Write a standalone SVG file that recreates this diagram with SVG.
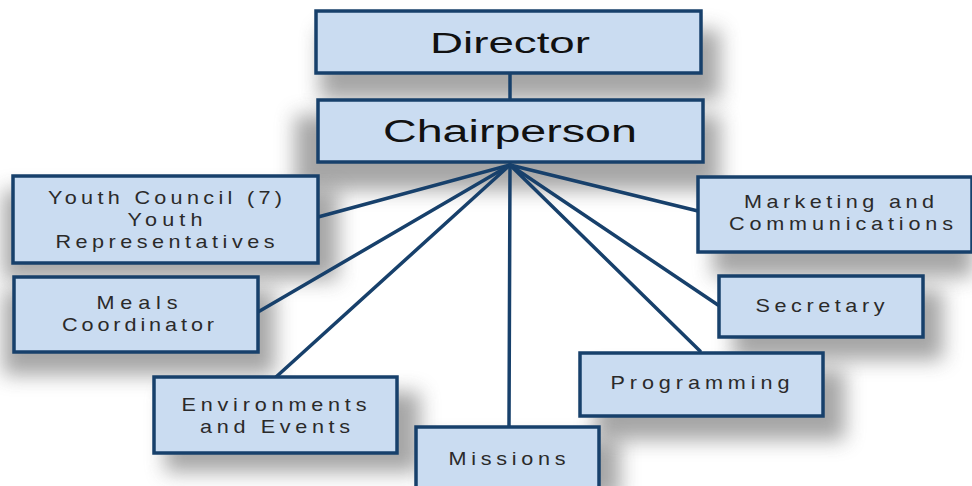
<svg xmlns="http://www.w3.org/2000/svg" width="972" height="486" viewBox="0 0 972 486">
<defs>
<filter id="sh" x="-30%" y="-50%" width="160%" height="200%">
<feGaussianBlur stdDeviation="10"/>
</filter>
</defs>
<style>
.box{fill:#cadcf1;stroke:#17406b;stroke-width:3.5}
.shadow{fill:#6a6a6a;opacity:0.6;filter:url(#sh)}
.t{font-family:"Liberation Sans",Arial,sans-serif;font-size:18px;fill:#2a2a2a;text-anchor:middle}
.big{font-family:"Liberation Sans",Arial,sans-serif;fill:#111;text-anchor:middle}
.c{stroke:#17406b;stroke-width:3.5;fill:none;stroke-linecap:round}
</style>
<rect width="972" height="486" fill="#fff"/>
<g id="shadows">
<rect class="shadow" x="320" y="30" width="400" height="70"/>
<rect class="shadow" x="295" y="115" width="425" height="75"/>
<rect class="shadow" x="3" y="190" width="335" height="90"/>
<rect class="shadow" x="3" y="290" width="272" height="85"/>
<rect class="shadow" x="165" y="392" width="255" height="80"/>
<rect class="shadow" x="430" y="440" width="190" height="60"/>
<rect class="shadow" x="595" y="370" width="250" height="70"/>
<rect class="shadow" x="733" y="290" width="210" height="70"/>
<rect class="shadow" x="713" y="192" width="260" height="85"/>
</g>
<g id="connectors">
<line class="c" x1="510" y1="73" x2="510" y2="99"/>
<line class="c" x1="510" y1="165" x2="318" y2="217"/>
<line class="c" x1="510" y1="165" x2="258" y2="312"/>
<line class="c" x1="510" y1="165" x2="276" y2="377"/>
<line class="c" x1="510" y1="165" x2="509" y2="427"/>
<line class="c" x1="510" y1="165" x2="700" y2="351"/>
<line class="c" x1="510" y1="165" x2="718" y2="305"/>
<line class="c" x1="510" y1="165" x2="698" y2="211"/>
</g>
<g id="director">
<rect class="box" x="316" y="11" width="385" height="62"/>
<text class="big" x="510" y="53" font-size="30" textLength="160" lengthAdjust="spacingAndGlyphs">Director</text>
</g>
<g id="chairperson">
<rect class="box" x="318" y="100" width="385" height="62"/>
<text class="big" x="510" y="142" font-size="31" textLength="254" lengthAdjust="spacingAndGlyphs">Chairperson</text>
</g>
<g id="youth-council">
<rect class="box" x="13" y="176" width="305" height="87"/>
<g transform="scale(1.2 1)">
<text class="t" x="137.5" y="204" textLength="195" lengthAdjust="spacing">Youth Council (7)</text>
<text class="t" x="137.5" y="226" textLength="62.5" lengthAdjust="spacing">Youth</text>
<text class="t" x="137.5" y="248" textLength="182.5" lengthAdjust="spacing">Representatives</text>
</g>
</g>
<g id="meals">
<rect class="box" x="14" y="277" width="244" height="75"/>
<g transform="scale(1.2 1)">
<text class="t" x="114.2" y="309" textLength="67.5" lengthAdjust="spacing">Meals</text>
<text class="t" x="115" y="331" textLength="126.7" lengthAdjust="spacing">Coordinator</text>
</g>
</g>
<g id="environments">
<rect class="box" x="154" y="377" width="243" height="76"/>
<g transform="scale(1.2 1)">
<text class="t" x="228.3" y="411" textLength="154.2" lengthAdjust="spacing">Environments</text>
<text class="t" x="229.2" y="433" textLength="125" lengthAdjust="spacing">and Events</text>
</g>
</g>
<g id="missions">
<rect class="box" x="416" y="427" width="183" height="70"/>
<text class="t" transform="scale(1.2 1)" x="422.5" y="465" textLength="97.5" lengthAdjust="spacing">Missions</text>
</g>
<g id="programming">
<rect class="box" x="580" y="353" width="243" height="63"/>
<text class="t" transform="scale(1.2 1)" x="583.3" y="389" textLength="149.2" lengthAdjust="spacing">Programming</text>
</g>
<g id="secretary">
<rect class="box" x="719" y="276" width="204" height="61"/>
<text class="t" transform="scale(1.2 1)" x="683.3" y="312" textLength="107.5" lengthAdjust="spacing">Secretary</text>
</g>
<g id="marketing">
<rect class="box" x="698" y="177" width="274" height="75"/>
<g transform="scale(1.2 1)">
<text class="t" x="699.2" y="208" textLength="158.3" lengthAdjust="spacing">Marketing and</text>
<text class="t" x="700.8" y="230" textLength="186.7" lengthAdjust="spacing">Communications</text>
</g>
</g>
</svg>
